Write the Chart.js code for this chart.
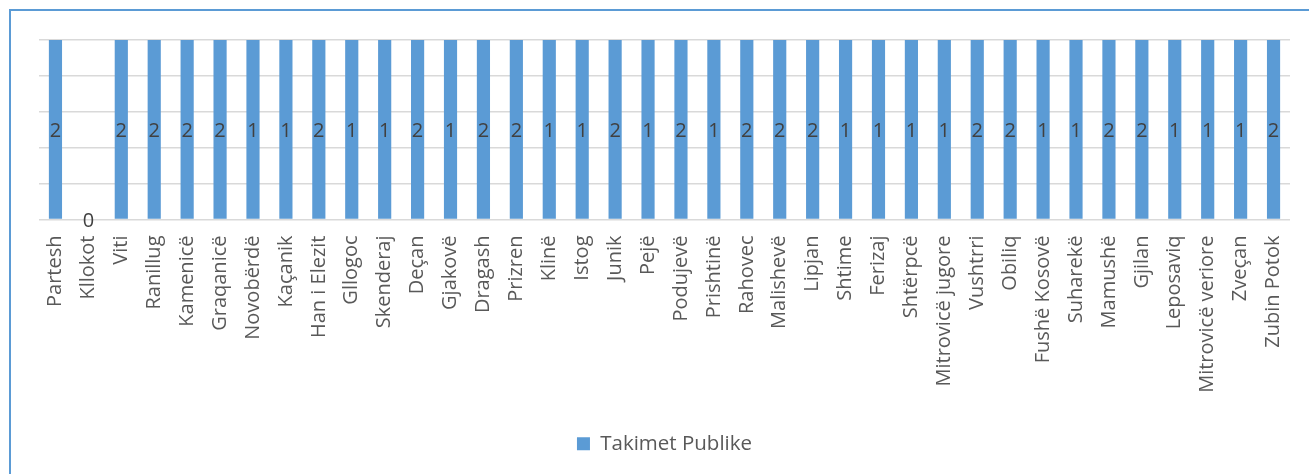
<!DOCTYPE html>
<html>
<head>
<meta charset="utf-8">
<script src="https://cdn.jsdelivr.net/npm/chart.js@4/dist/chart.umd.min.js"></script>
<style>
  html, body { margin: 0; padding: 0; background: #fff; overflow: hidden; }
  #wrap { position: absolute; left: 0; top: 0; width: 1309px; height: 474px; }
  #frame { position: absolute; left: 9px; top: 9px; width: 1400px; height: 600px;
           border-left: 2px solid #5b9bd5; border-top: 2px solid #5b9bd5; pointer-events: none; }
</style>
</head>
<body>
<div id="wrap"><canvas id="c"></canvas></div>
<div id="frame"></div>
<script>
const categories = ["Partesh","Kllokot","Viti","Ranillug","Kamenicë","Graqanicë","Novobërdë","Kaçanik","Han i Elezit","Gllogoc","Skenderaj","Deçan","Gjakovë","Dragash","Prizren","Klinë","Istog","Junik","Pejë","Podujevë","Prishtinë","Rahovec","Malishevë","Lipjan","Shtime","Ferizaj","Shtërpcë","Mitrovicë jugore","Vushtrri","Obiliq","Fushë Kosovë","Suharekë","Mamushë","Gjilan","Leposaviq","Mitrovicë veriore","Zveçan","Zubin Potok"];
const seriesName = "Takimet Publike";
const values = [2,0,2,2,2,2,1,1,2,1,1,2,1,2,2,1,1,2,1,2,1,2,2,2,1,1,1,1,2,2,1,1,2,2,1,1,1,2];
const yMin = 0;
const yMax = 0.5;
const yStep = 0.1;

const FONT = "'Open Sans', sans-serif";

const labelPlugin = {
  id: 'centerLabels',
  afterDatasetsDraw(chart) {
    const ctx = chart.ctx;
    const area = chart.chartArea;
    const meta = chart.getDatasetMeta(0);
    ctx.save();
    ctx.font = "20px " + FONT;
    ctx.fillStyle = "#404040";
    ctx.textAlign = "center";
    ctx.textBaseline = "middle";
    meta.data.forEach((bar, i) => {
      const top = Math.max(Math.min(bar.y, bar.base), area.top);
      const bottom = Math.min(Math.max(bar.y, bar.base), area.bottom);
      const y = (top + bottom) / 2;
      ctx.fillText(String(values[i]), bar.x, y + 1.5);
    });
    ctx.restore();
  }
};

new Chart(document.getElementById('c'), {
  type: 'bar',
  data: {
    labels: categories,
    datasets: [{
      label: seriesName,
      data: values,
      backgroundColor: '#5b9bd5',
      borderWidth: 0,
      categoryPercentage: 1,
      barPercentage: 0.4,
      clip: 0
    }]
  },
  options: {
    responsive: true,
    maintainAspectRatio: false,
    animation: false,
    layout: { padding: { left: 39, right: 19, top: 40, bottom: 10 } },
    plugins: {
      legend: {
        position: 'bottom',
        labels: {
          boxWidth: 13, boxHeight: 13, padding: 10,
          color: '#595959',
          font: { family: FONT, size: 20.5 }
        }
      },
      tooltip: { enabled: false }
    },
    scales: {
      x: {
        grid: { display: false, drawTicks: false },
        border: { display: false },
        ticks: {
          autoSkip: false, maxRotation: 90, minRotation: 90,
          padding: 16, color: '#595959',
          font: { family: FONT, size: 20 }
        },
        afterFit(scale) { scale.height = 204; scale.paddingLeft = 0; scale.paddingRight = 0; }
      },
      y: {
        min: yMin, max: yMax,
        ticks: { display: false, stepSize: yStep },
        grid: { color: '#d9d9d9', lineWidth: 1.5, drawTicks: false },
        border: { display: false },
        afterFit(scale) { scale.width = 0; }
      }
    }
  },
  plugins: [labelPlugin]
});
</script>
</body>
</html>
